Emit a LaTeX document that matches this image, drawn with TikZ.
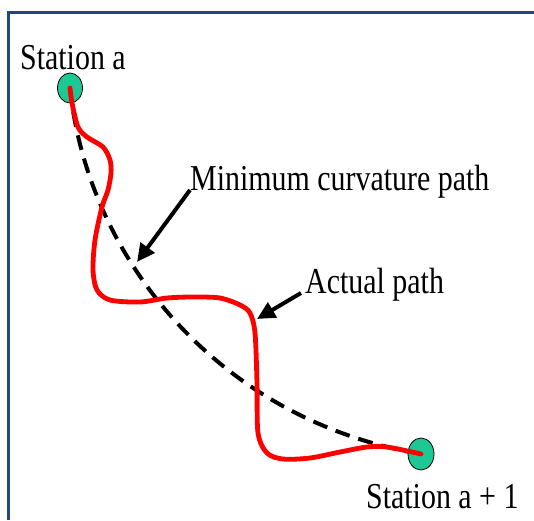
\documentclass[tikz,border=0pt]{standalone}
\usepackage{fontspec}
\setmainfont{Liberation Serif}
\usetikzlibrary{arrows.meta,shapes.geometric}

\definecolor{framebl}{RGB}{31,73,125}
\definecolor{stagreen}{RGB}{30,200,148}

\tikzset{
  station/.style={ellipse, draw=black, line width=0.8pt, fill=stagreen,
    minimum width=25pt, minimum height=30pt, inner sep=0pt},
  lbl/.style={inner sep=0pt, anchor=base west, xscale=0.82,
    font=\fontsize{36.5}{40}\selectfont},
  pointer/.style={line width=4pt, -{Triangle[length=18pt,width=17pt]}},
  minpath/.style={line width=4pt, dash pattern=on 15pt off 9pt},
  actpath/.style={red, line width=4.8pt, line cap=round, line join=round},
}

\begin{document}
\begin{tikzpicture}[x=1pt,y=-1pt]
  \useasboundingbox (0,0) rectangle (534,520);
  \draw[framebl, line width=2.5pt] (8.5,520) -- (8.5,12.5) -- (536,12.5);

  \coordinate (A) at (70,88);
  \coordinate (B) at (421,454);
  \coordinate (mcTip) at (137,262);
  \coordinate (apTip) at (257,319);

  % minimum curvature path
  \draw[minpath] (A) .. controls (88,260) and (220,420) .. (B);

  \node[station] (staA) at (A) {};
  \node[station, minimum width=26pt, minimum height=32pt] (staB) at (B) {};

  % actual path
  \draw[actpath] plot[smooth, tension=0.5] coordinates {
    (staA.center) (72,103) (78,127) (87,137) (103,147) (110,160) (111,173)
    (108,190) (102,207) (95,240) (93,270) (97,290) (110,300) (140,302)
    (167,298) (193,297) (220,298) (240,305) (250,313) (255,333) (257,383)
    (258,433) (267,453) (283,459) (310,458) (340,452) (367,447) (387,447)
    (staB.center)};

  \node[lbl] (labA) at (20,69) {Station a};
  \node[lbl] (labB) at (366,508) {Station a + 1};
  \node[lbl] (mincurv) at (190,190) {Minimum curvature path};
  \node[lbl] (actual) at (305,293) {Actual path};

  \draw[pointer] (mincurv.base west) -- (mcTip);
  \draw[pointer] ([xshift=-4pt]actual.base west) -- (apTip);
\end{tikzpicture}
\end{document}
